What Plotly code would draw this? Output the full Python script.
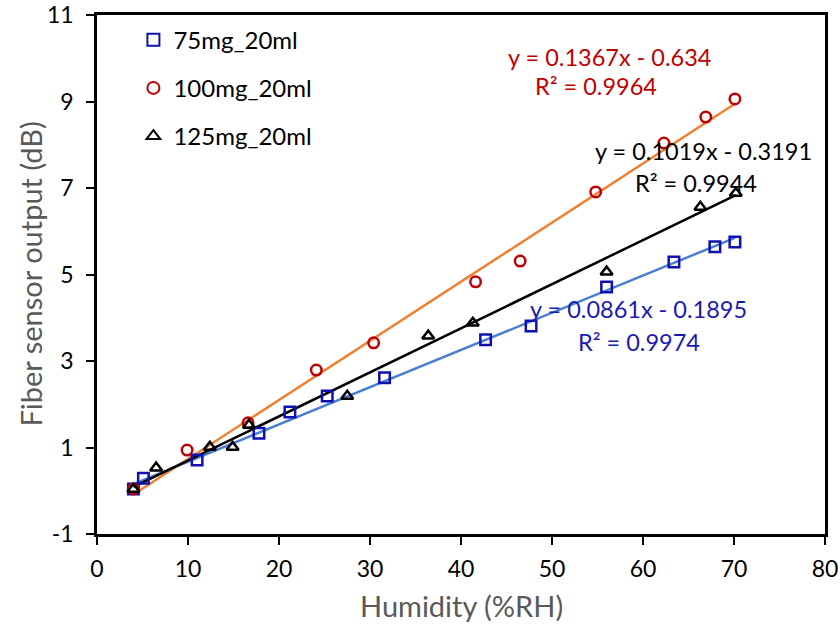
import plotly.graph_objects as go

# ---- data ----
series_names = ["75mg_20ml", "100mg_20ml", "125mg_20ml"]

x_75 = [4.0, 5.1, 11.0, 17.8, 21.2, 25.3, 31.6, 42.7, 47.7, 56.0, 63.4, 67.9, 70.1]
y_75 = [0.04, 0.29, 0.71, 1.33, 1.82, 2.19, 2.61, 3.49, 3.81, 4.71, 5.29, 5.64, 5.75]

x_100 = [4.0, 9.9, 16.6, 24.1, 30.4, 41.6, 46.5, 54.8, 62.3, 66.9, 70.1]
y_100 = [0.04, 0.94, 1.57, 2.79, 3.42, 4.83, 5.31, 6.91, 8.04, 8.64, 9.06]

x_125 = [4.0, 6.5, 12.4, 14.9, 16.7, 27.5, 36.4, 41.3, 56.0, 66.3, 70.2]
y_125 = [0.04, 0.53, 1.01, 1.01, 1.52, 2.19, 3.58, 3.88, 5.06, 6.56, 6.88]

slopes = [0.0861, 0.1367, 0.1019]
intercepts = [-0.1895, -0.634, -0.3191]
r2 = [0.9974, 0.9964, 0.9944]

x_ticks = [0, 10, 20, 30, 40, 50, 60, 70, 80]
x_tick_labels = ["0", "10", "20", "30", "40", "50", "60", "70", "80"]
y_ticks = [-1, 1, 3, 5, 7, 9, 11]
y_tick_labels = ["-1", "1", "3", "5", "7", "9", "11"]

x_title = "Humidity (%RH)"
y_title = "Fiber sensor output (dB)"

# ---- styles ----
FONT = "Lato"
marker_colors = ["#1010B0", "#C00000", "#000000"]
line_colors = ["#4A7FD0", "#F08030", "#000000"]
symbols = ["square-open", "circle-open", "triangle-up-open"]
xs = [x_75, x_100, x_125]
ys = [y_75, y_100, y_125]

fig = go.Figure()

# trendlines
for i in range(3):
    xl = [min(xs[i]), max(xs[i])]
    yl = [slopes[i] * v + intercepts[i] for v in xl]
    fig.add_trace(go.Scatter(x=xl, y=yl, mode="lines",
                             line=dict(color=line_colors[i], width=2.5),
                             showlegend=False, hoverinfo="skip"))

# markers
for i in range(3):
    fig.add_trace(go.Scatter(x=xs[i], y=ys[i], mode="markers", name=series_names[i],
                             legendgroup=series_names[i],
                             marker=dict(symbol=symbols[i], size=10.5,
                                         color=marker_colors[i],
                                         line=dict(color=marker_colors[i], width=2.5))))

def fmt_eq(s, b):
    sign = "-" if b < 0 else "+"
    return f"y = {s}x {sign} {abs(b)}"

eq_pos = [  # (x, y) for equation line and R2 line
    ((59.5, 4.2), (59.6, 3.44)),
    ((56.3, 10.03), (54.8, 9.36)),
    ((66.7, 7.86), (65.8, 7.12)),
]
text_colors = ["#1A1AB0", "#C00000", "#000000"]
annotations = []
for i in range(3):
    (ex, ey), (rx, ry) = eq_pos[i]
    annotations.append(dict(x=ex, y=ey, xref="x", yref="y", text=fmt_eq(slopes[i], intercepts[i]),
                            showarrow=False, font=dict(family=FONT, size=23.5, color=text_colors[i])))
    annotations.append(dict(x=rx, y=ry, xref="x", yref="y", text=f"R² = {r2[i]}",
                            showarrow=False, font=dict(family=FONT, size=23.5, color=text_colors[i])))

# axis titles
annotations.append(dict(x=0.5, y=0, xref="paper", yref="paper", text=x_title, showarrow=False,
                        xanchor="center", yanchor="middle", yshift=-71,
                        font=dict(family=FONT, size=29, color="#595959")))
annotations.append(dict(x=0, y=0.5, xref="paper", yref="paper", text=y_title, showarrow=False,
                        xanchor="center", yanchor="middle", xshift=-67, textangle=-90,
                        font=dict(family=FONT, size=29, color="#595959")))

fig.update_layout(
    width=840, height=630,
    margin=dict(l=97, r=15, t=15, b=96, autoexpand=False),
    paper_bgcolor="white", plot_bgcolor="white",
    font=dict(family=FONT, size=22, color="black"),
    showlegend=True,
    legend=dict(x=0.05, y=0.995, xanchor="left", yanchor="top",
                bgcolor="rgba(0,0,0,0)", font=dict(family=FONT, size=24, color="black"),
                tracegroupgap=14, itemsizing="constant"),
    annotations=annotations,
    xaxis=dict(range=[0, 80], tickvals=x_ticks, ticktext=x_tick_labels, ticks="outside",
               ticklen=8, tickwidth=2,
               tickcolor="black", showline=True, linecolor="black", linewidth=2.5, mirror=True,
               showgrid=False, zeroline=False, automargin=False, ticklabelstandoff=5,
               tickfont=dict(family=FONT, size=23, color="black")),
    yaxis=dict(range=[-1, 11], tickvals=y_ticks, ticktext=y_tick_labels, ticks="outside",
               ticklen=8, tickwidth=2,
               tickcolor="black", showline=True, linecolor="black", linewidth=2.5, mirror=True,
               showgrid=False, zeroline=False, automargin=False, ticklabelstandoff=8,
               tickfont=dict(family=FONT, size=23, color="black")),
)

fig.write_html("out.html")
